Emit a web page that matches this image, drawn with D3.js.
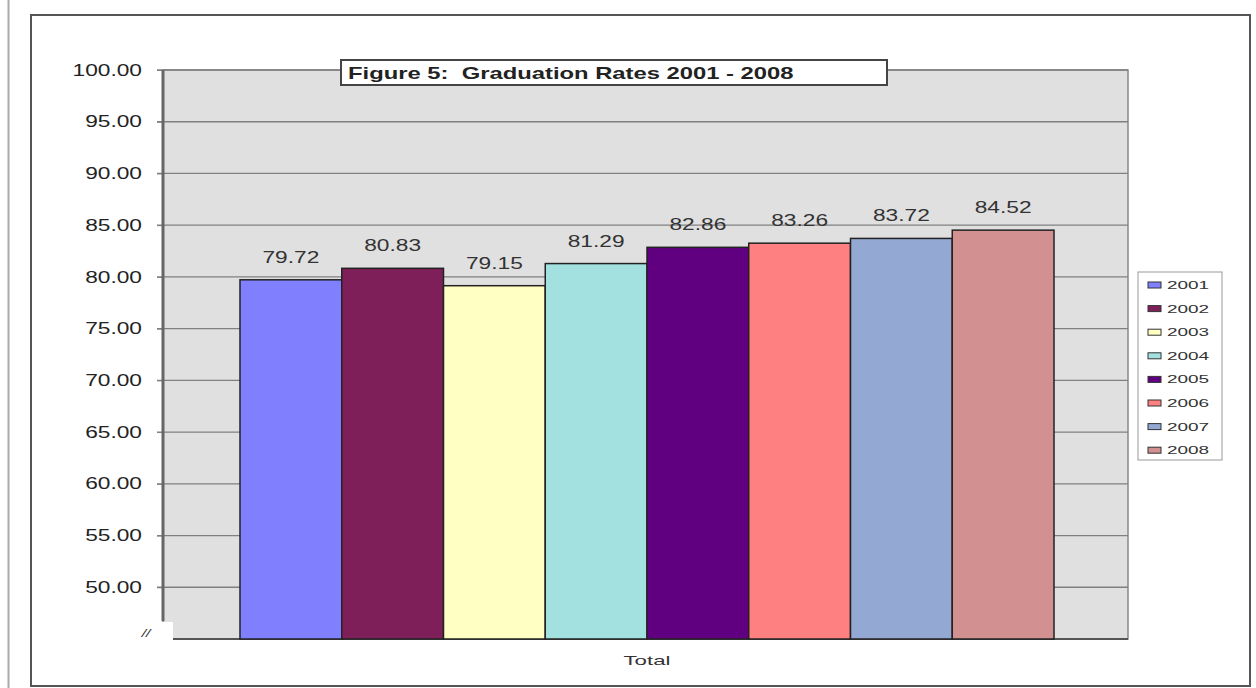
<!DOCTYPE html>
<html>
<head>
<meta charset="utf-8">
<script src="https://cdn.jsdelivr.net/npm/d3@7"></script>
<style>
  body { margin: 0; background: #fff; }
  svg { display: block; font-family: Arial, "Liberation Sans", sans-serif; }
</style>
</head>
<body>
<svg id="chart" width="1256" height="688"></svg>
<script>
// Data
const years = ["2001", "2002", "2003", "2004", "2005", "2006", "2007", "2008"];
const rates = [79.72, 80.83, 79.15, 81.29, 82.86, 83.26, 83.72, 84.52];
const colors = ["#8080ff", "#7f1f5a", "#ffffc4", "#a3e0e0", "#600080", "#ff8080", "#93a8d2", "#d39090"];
const yTicks = [50, 55, 60, 65, 70, 75, 80, 85, 90, 95, 100];
const category = "Total";
const title = "Figure 5:  Graduation Rates 2001 - 2008";

// Plot area
const plot = { left: 163, top: 70, right: 1128, bottom: 639 };
// the source picture is stretched sideways, so text gets widened too
const stretch = 1.42;

const svg = d3.select("#chart");

// helper: text placed with a transform so it can be widened
function wideText(g, x, y, size, anchor, sx) {
    return g.append("text")
        .attr("transform", `translate(${x},${y}) scale(${sx || stretch},1)`)
        .attr("text-anchor", anchor || "start")
        .attr("font-size", size)
        .attr("fill", "#333");
}

// page edge line and outer frame
svg.append("line")
    .attr("x1", 8.5).attr("x2", 8.5).attr("y1", 0).attr("y2", 688)
    .attr("stroke", "#aaa").attr("stroke-width", 2);

svg.append("rect")
    .attr("x", 31).attr("y", 15)
    .attr("width", 1219).attr("height", 671)
    .attr("fill", "#fff")
    .attr("stroke", "#555").attr("stroke-width", 2);

// Scales
const yScale = d3.scaleLinear()
    .domain([45, 100])
    .range([plot.bottom, plot.top]);

const xScale = d3.scaleBand()
    .domain(years)
    .range([240, 1054])
    .padding(0);

// Plot background
svg.append("rect")
    .attr("x", plot.left).attr("y", plot.top)
    .attr("width", plot.right - plot.left)
    .attr("height", plot.bottom - plot.top)
    .attr("fill", "#e0e0e0")
    .attr("stroke", "#888").attr("stroke-width", 1.5);

// Gridlines
svg.append("g")
    .selectAll("line")
    .data(yTicks)
    .join("line")
    .attr("x1", plot.left - 6).attr("x2", plot.right)
    .attr("y1", d => yScale(d)).attr("y2", d => yScale(d))
    .attr("stroke", "#808080").attr("stroke-width", 1.3);

// Y axis
const yAxis = svg.append("g")
    .attr("transform", `translate(${plot.left},0)`)
    .call(d3.axisLeft(yScale).tickValues(yTicks).tickFormat(d3.format(".2f")).tickSize(6).tickPadding(0));
yAxis.select(".domain").remove();
yAxis.selectAll(".tick line").attr("stroke", "#808080");
yAxis.selectAll(".tick text")
    .attr("x", 0)
    .attr("transform", `translate(-21,0) scale(${stretch},1)`)
    .attr("font-size", 16).attr("fill", "#222");

svg.append("line")
    .attr("x1", plot.left).attr("x2", plot.left)
    .attr("y1", plot.top).attr("y2", 621)
    .attr("stroke", "#666").attr("stroke-width", 3);

// axis break
svg.append("rect")
    .attr("x", 128).attr("y", 622).attr("width", 45).attr("height", 18)
    .attr("fill", "#fff");
wideText(svg, 146, 637, 11, "middle")
    .attr("font-style", "italic")
    .text("//");

svg.append("line")
    .attr("x1", 173).attr("x2", plot.right)
    .attr("y1", plot.bottom).attr("y2", plot.bottom)
    .attr("stroke", "#555").attr("stroke-width", 2);

// Bars
svg.append("g")
    .selectAll("rect")
    .data(rates)
    .join("rect")
    .attr("x", (d, i) => xScale(years[i]))
    .attr("y", d => yScale(d))
    .attr("width", xScale.bandwidth())
    .attr("height", d => plot.bottom - yScale(d))
    .attr("fill", (d, i) => colors[i])
    .attr("stroke", "#222").attr("stroke-width", 1.5);

// Value labels
const labels = svg.append("g");
rates.forEach((d, i) => {
    wideText(labels, xScale(years[i]) + xScale.bandwidth() / 2, yScale(d) - 17, 16, "middle")
        .text(d.toFixed(2));
});

// Category label
wideText(svg, 647, 665, 13.5, "middle", 1.65).text(category);

// Title box
svg.append("rect")
    .attr("x", 341).attr("y", 60).attr("width", 546).attr("height", 25)
    .attr("fill", "#fff")
    .attr("stroke", "#444").attr("stroke-width", 2);
wideText(svg, 348, 79, 17, "start", 1.4)
    .attr("font-weight", "bold").attr("fill", "#222")
    .style("white-space", "pre")
    .text(title);

// Legend
const legend = svg.append("g");
legend.append("rect")
    .attr("x", 1138).attr("y", 272).attr("width", 84).attr("height", 188)
    .attr("fill", "#fff")
    .attr("stroke", "#999").attr("stroke-width", 1);

years.forEach((yr, i) => {
    const y = 285 + i * 23.6;
    legend.append("rect")
        .attr("x", 1148).attr("y", y - 3).attr("width", 13).attr("height", 6)
        .attr("fill", colors[i])
        .attr("stroke", "#333").attr("stroke-width", 1);
    wideText(legend, 1167, y + 4, 11.5, "start", 1.65).text(yr);
});
</script>
</body>
</html>
